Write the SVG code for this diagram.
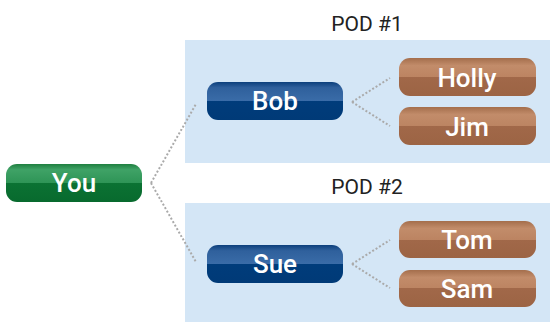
<svg xmlns="http://www.w3.org/2000/svg" width="550" height="322" viewBox="0 0 550 322">
<defs>
<linearGradient id="gGreen" x1="0" y1="0" x2="0" y2="1">
<stop offset="0" stop-color="#1f7f40"/><stop offset="0.15" stop-color="#3fa266"/><stop offset="0.5" stop-color="#2e9456"/><stop offset="0.5" stop-color="#0b7233"/><stop offset="1" stop-color="#086a2e"/>
</linearGradient>
<linearGradient id="gBlue" x1="0" y1="0" x2="0" y2="1">
<stop offset="0" stop-color="#0c3f7c"/><stop offset="0.15" stop-color="#2f609c"/><stop offset="0.5" stop-color="#3a6ca8"/><stop offset="0.5" stop-color="#003c7b"/><stop offset="1" stop-color="#003a77"/>
</linearGradient>
<linearGradient id="gBrown" x1="0" y1="0" x2="0" y2="1">
<stop offset="0" stop-color="#a46e4c"/><stop offset="0.2" stop-color="#c28c6a"/><stop offset="0.5" stop-color="#bc8462"/><stop offset="0.5" stop-color="#a16849"/><stop offset="1" stop-color="#9c6444"/>
</linearGradient>
<style>
.pod{fill:#d4e6f6}
.title{font-family:Roboto,"Liberation Sans",sans-serif;font-size:21px;fill:#222;text-anchor:middle}
.lbl{font-family:Roboto,"Liberation Sans",sans-serif;font-weight:500;font-size:26px;fill:#fff;text-anchor:middle}
.conn line{stroke:#aaa;stroke-width:2;stroke-dasharray:2 2;fill:none}
</style>
</defs>
<g id="pod1"><rect class="pod" x="185" y="40" width="365" height="123"/><text class="title" x="367" y="31">POD #1</text></g>
<g id="pod2"><rect class="pod" x="185" y="203" width="365" height="119"/><text class="title" x="367" y="194">POD #2</text></g>
<g class="conn">
<line x1="151" y1="183" x2="196" y2="104"/>
<line x1="151" y1="183" x2="196" y2="262"/>
<line x1="352" y1="102" x2="390" y2="78"/>
<line x1="352" y1="102" x2="390" y2="126"/>
<line x1="352" y1="264" x2="390" y2="240"/>
<line x1="352" y1="264" x2="390" y2="288"/>
</g>
<g id="you"><rect x="6" y="164" width="136" height="38" rx="11" fill="url(#gGreen)"/><text class="lbl" x="74" y="192">You</text></g>
<g id="bob"><rect x="207" y="82" width="136" height="38" rx="11" fill="url(#gBlue)"/><text class="lbl" x="275" y="110">Bob</text></g>
<g id="sue"><rect x="207" y="245" width="136" height="38" rx="11" fill="url(#gBlue)"/><text class="lbl" x="275" y="273">Sue</text></g>
<g id="holly"><rect x="399" y="58" width="137" height="38" rx="11" fill="url(#gBrown)"/><text class="lbl" x="467" y="87">Holly</text></g>
<g id="jim"><rect x="399" y="107" width="137" height="38" rx="11" fill="url(#gBrown)"/><text class="lbl" x="467" y="136">Jim</text></g>
<g id="tom"><rect x="399" y="221" width="137" height="37" rx="11" fill="url(#gBrown)"/><text class="lbl" x="467" y="249">Tom</text></g>
<g id="sam"><rect x="399" y="270" width="137" height="37" rx="11" fill="url(#gBrown)"/><text class="lbl" x="467" y="298">Sam</text></g>
</svg>
